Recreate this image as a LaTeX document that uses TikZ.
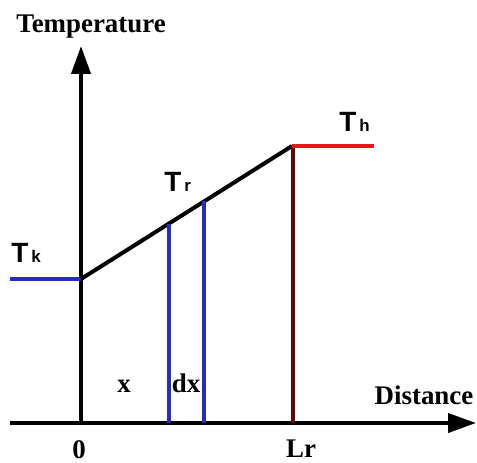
\documentclass[tikz,border=0pt]{standalone}
\usepackage{fontspec}
\setmainfont{Liberation Serif}
\newfontfamily\tlabfont{Liberation Sans}
\usepackage{xcolor}
\usetikzlibrary{arrows.meta,calc}
\definecolor{condblue}{RGB}{38,44,190}
\definecolor{condred}{RGB}{232,24,24}
\definecolor{condmaroon}{RGB}{96,6,10}
\tikzset{
  axisline/.style={line width=2bp,draw=black,-{Triangle[length=14bp,width=9.5bp]}},
  profile/.style={line width=2bp,draw=black},
  bluebar/.style={line width=1.6bp,draw=condblue},
  redbar/.style={line width=2bp,draw=condred},
  maroonbar/.style={line width=2bp,draw=condmaroon},
  axlab/.style={font=\fontsize{13.5}{14}\selectfont\bfseries,inner sep=0pt},
  tlab/.style={font=\tlabfont\bfseries\fontsize{14}{14}\selectfont,inner sep=0pt},
}
\newcommand{\tsubs}[1]{T\kern1.5bp{\fontsize{8.5}{9}\selectfont #1}}

\begin{document}
\begin{tikzpicture}[x=0.5bp,y=-0.5bp]
\useasboundingbox (0,0) rectangle (477,463);

% ============ axes ============
\coordinate (orig) at (81,423);
\coordinate (ytip) at (81,46);
\coordinate (xstart) at (10,423);
\coordinate (xtip) at (476,423);
\draw[axisline] (orig) -- (ytip);
\draw[axisline] (xstart) -- (xtip);
\node[axlab,anchor=base] (templab) at (91,33) {Temperature};
\node[axlab,anchor=base] (distlab) at (424,404) {Distance};
\node[axlab,anchor=base] (zerolab) at (79,458) {0};
\node[axlab,anchor=base] (lrlab) at (301,457) {Lr};

% ============ temperature profile ============
\coordinate (kstart) at (10,279);
\coordinate (kend) at (81,279);
\coordinate (hstart) at (292,146);
\coordinate (hend) at (374,146);
\coordinate (htop) at (293,146);
\coordinate (hfoot) at (293,423);
\draw[bluebar,line width=2bp] (kstart) -- (kend);
\draw[profile] (kend) -- (hstart);
\draw[maroonbar] (htop) -- (hfoot);
\draw[redbar] (hstart) -- (hend);

% ============ slice dx ============
\coordinate (sl) at ($(kend)!0.417!(hstart)$);
\coordinate (sr) at ($(kend)!0.583!(hstart)$);
\draw[bluebar] (sl) -- (sl |- orig);
\draw[bluebar] (sr) -- (sr |- orig);
\node[axlab,anchor=base] (xlab) at (124,392) {x};
\node[axlab,anchor=base] (dxlab) at (186,392) {dx};

% ============ temperature labels ============
\node[tlab,anchor=base west] (tk) at (11,263) {\tsubs{k}};
\node[tlab,anchor=base west] (tr) at (164,192) {\tsubs{r}};
\node[tlab,anchor=base west] (th) at (339,132) {\tsubs{h}};
\end{tikzpicture}
\end{document}
